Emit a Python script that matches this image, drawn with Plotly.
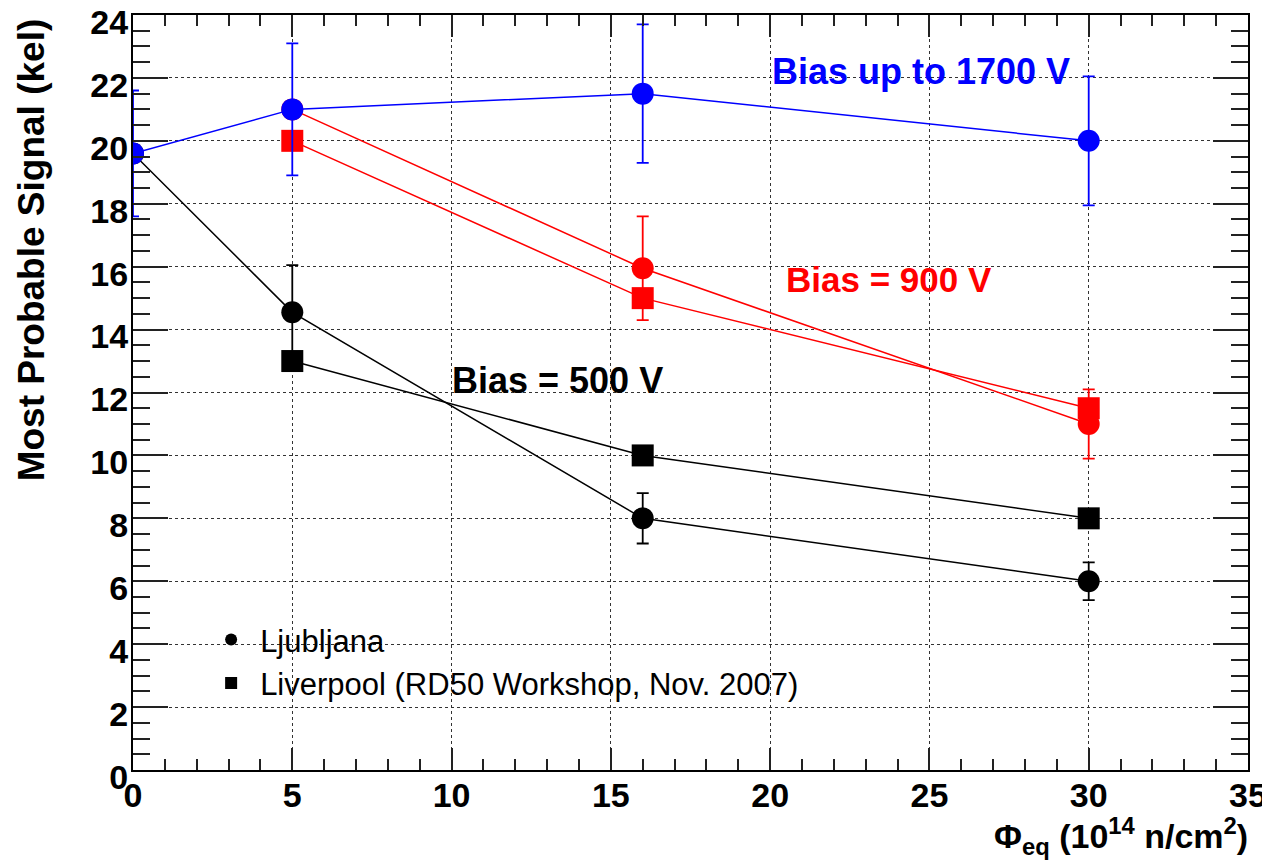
import plotly.graph_objects as go

fluence = [0, 5, 16, 30]
fluence_lv = [5, 16, 30]

# Ljubljana 1700 V
lj1700 = [19.6, 21.0, 21.5, 20.0]
lj1700_err = [2.0, 2.1, 2.2, 2.05]
# Ljubljana 900 V
lj900_x = [5, 16, 30]
lj900 = [21.0, 15.95, 11.0]
lj900_err = [0.0, 1.65, 1.1]
# Liverpool 900 V
lv900 = [20.0, 15.0, 11.5]
# Ljubljana 500 V
lj500 = [19.6, 14.55, 8.0, 6.0]
lj500_err = [0.0, 1.5, 0.8, 0.6]
# Liverpool 500 V
lv500 = [13.0, 10.0, 8.0]

x_ticks = [0, 5, 10, 15, 20, 25, 30, 35]
y_ticks = [0, 2, 4, 6, 8, 10, 12, 14, 16, 18, 20, 22, 24]

BLUE = "#0000ff"
RED = "#ff0000"
BLACK = "#000000"
FONT = "Liberation Sans, Arial, sans-serif"

fig = go.Figure()

def circ(x, y, err, color):
    fig.add_trace(go.Scatter(
        x=x, y=y, mode="lines+markers", showlegend=False,
        line=dict(color=color, width=1.5),
        marker=dict(symbol="circle", size=22, color=color),
        error_y=dict(type="data", array=err, color=color, thickness=1.8, width=6, visible=True),
    ))

def sq(x, y, color):
    fig.add_trace(go.Scatter(
        x=x, y=y, mode="lines+markers", showlegend=False,
        line=dict(color=color, width=1.5),
        marker=dict(symbol="square", size=22, color=color),
    ))

sq(fluence_lv, lv500, BLACK)
circ(fluence, lj500, lj500_err, BLACK)
sq(fluence_lv, lv900, RED)
circ(lj900_x, lj900, lj900_err, RED)
circ(fluence, lj1700, lj1700_err, BLUE)

# legend entries
fig.add_trace(go.Scatter(x=[None], y=[None], mode="markers", name="Ljubljana",
                         marker=dict(symbol="circle", size=20, color=BLACK)))
fig.add_trace(go.Scatter(x=[None], y=[None], mode="markers",
                         name="Liverpool (RD50 Workshop, Nov. 2007)",
                         marker=dict(symbol="square", size=20, color=BLACK)))

axis_common = dict(
    showline=True, linewidth=2, linecolor=BLACK, mirror="ticks",
    ticks="inside", tickwidth=2, tickcolor="#222",
    showgrid=True, gridcolor="#333", gridwidth=1, griddash="dot",
    zeroline=False, automargin=False, tickmode="array",
    ticklabeloverflow="allow",
    tickfont=dict(family=FONT, size=34, color=BLACK, weight="bold"),
)

fig.update_xaxes(range=[0, 35], tickvals=x_ticks, ticktext=[str(v) for v in x_ticks],
                 ticklen=22, ticklabelstandoff=-6,
                 minor=dict(dtick=1, ticklen=11, tickwidth=2, tickcolor="#222", ticks="inside", showgrid=False),
                 **axis_common)
fig.update_yaxes(range=[0, 24], tickvals=y_ticks, ticktext=[str(v) for v in y_ticks],
                 ticklen=35, ticklabelstandoff=-4, ticklabelshift=7,
                 minor=dict(dtick=0.5, ticklen=17, tickwidth=2, tickcolor="#222", ticks="inside", showgrid=False),
                 **axis_common)

fig.add_annotation(text="<b>Bias up to 1700 V</b>", x=20.0, y=22.19,
                   xref="x", yref="y", xanchor="left", yanchor="middle", showarrow=False,
                   font=dict(family=FONT, size=36, color=BLUE))
fig.add_annotation(text="<b>Bias = 900 V</b>", x=20.45, y=15.58,
                   xref="x", yref="y", xanchor="left", yanchor="middle", showarrow=False,
                   font=dict(family=FONT, size=35, color=RED))
fig.add_annotation(text="<b>Bias = 500 V</b>", x=9.95, y=12.37,
                   xref="x", yref="y", xanchor="left", yanchor="middle", showarrow=False,
                   font=dict(family=FONT, size=36, color=BLACK))

fig.add_annotation(text="<b>Most Probable Signal (kel)</b>", textangle=-90,
                   x=-0.091, y=0.689, xref="paper", yref="paper",
                   xanchor="center", yanchor="middle", showarrow=False,
                   font=dict(family=FONT, size=37, color=BLACK))
fig.add_annotation(text="<b>Φ<sub>eq</sub> (10<sup>14</sup> n/cm<sup>2</sup>)</b>",
                   x=1.002, y=-0.087, xref="paper", yref="paper",
                   xanchor="right", yanchor="middle", showarrow=False,
                   font=dict(family=FONT, size=34, color=BLACK))

fig.update_layout(
    width=1262, height=854,
    margin=dict(l=125, r=22, t=7, b=92),
    paper_bgcolor="white", plot_bgcolor="white",
    showlegend=True,
    legend=dict(x=0.062, y=0.208, xanchor="left", yanchor="top",
                bgcolor="rgba(0,0,0,0)", borderwidth=0,
                font=dict(family=FONT, size=31, color=BLACK),
                itemsizing="constant", itemwidth=48, tracegroupgap=0),
)

fig.write_html("out.html")
